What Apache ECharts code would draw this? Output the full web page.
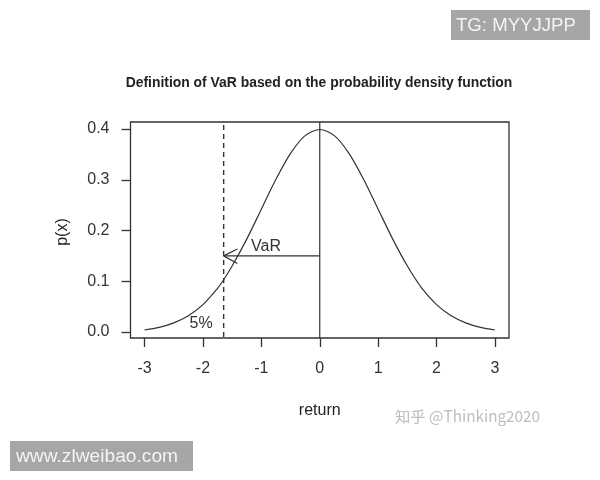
<!DOCTYPE html>
<html lang="en">
  <head>
    <meta charset="UTF-8" />
    <title>VaR</title>
    <style>
      html, body { margin: 0; padding: 0; background: #fff; }
      #main { width: 600px; height: 480px; }
    </style>
  </head>
  <body>
    <div id="main"></div>
    <script src="https://cdn.jsdelivr.net/npm/echarts@6/dist/echarts.min.js"></script>
    <script>
      // density curve
      var curveX = [-3, -2.75, -2.5, -2.25, -2, -1.75, -1.645, -1.5, -1.25, -1, -0.75, -0.5, -0.25, 0,
        0.25, 0.5, 0.75, 1, 1.25, 1.5, 1.75, 2, 2.25, 2.5, 2.75, 3];
      var curveY = [0.004, 0.009, 0.018, 0.032, 0.054, 0.086, 0.103, 0.13, 0.183, 0.242, 0.301, 0.352, 0.387, 0.399,
        0.387, 0.352, 0.301, 0.242, 0.183, 0.13, 0.086, 0.054, 0.032, 0.018, 0.009, 0.004];

      var xTicks = [-3, -2, -1, 0, 1, 2, 3];
      var yTicks = [0, 0.1, 0.2, 0.3, 0.4];

      var varX = -1.645;
      var varY = 0.15;
      var dashedLine = [[varX, 0.408], [varX, -0.0118]];
      var zeroLine = [[0, 0.4138], [0, -0.0118]];
      var varLine = [[0, varY], [varX, varY]];
      var arrowHead = [[-1.41, 0.1635], [varX, varY], [-1.41, 0.135]];
      var notes = [[-0.92, 0.168, 'VaR'], [-2.03, 0.016, '5%']];

      var inkColor = '#333';
      var fontName = '"Liberation Sans", Arial, sans-serif';

      function pairs(xs, ys) {
        return xs.map(function (x, i) { return [x, ys[i]]; });
      }

      function plainLine(data, dash, width) {
        return {
          type: 'line',
          data: data,
          symbol: 'none',
          silent: true,
          animation: false,
          lineStyle: { color: inkColor, width: width || 1.2, type: dash || 'solid' }
        };
      }

      var myChart = echarts.init(document.getElementById('main'), null, { renderer: 'canvas' });

      var option = {
        backgroundColor: '#fff',
        animation: false,
        title: {
          text: 'Definition of VaR based on the probability density function',
          left: 314,
          top: 71,
          textAlign: 'center',
          textStyle: { fontFamily: fontName, fontSize: 13.9, fontWeight: 'bold', color: '#222' }
        },
        grid: {
          left: 130.5,
          right: 91,
          top: 122,
          bottom: 142,
          show: true,
          borderColor: inkColor,
          borderWidth: 1.3,
          backgroundColor: 'transparent'
        },
        xAxis: {
          type: 'value',
          min: -3.24,
          max: 3.24,
          name: 'return',
          nameLocation: 'middle',
          nameGap: 65,
          nameTextStyle: { fontFamily: fontName, fontSize: 16, color: '#222' },
          splitLine: { show: false },
          axisLine: { show: false, onZero: false },
          axisTick: {
            show: true,
            length: 9,
            customValues: xTicks,
            lineStyle: { color: inkColor, width: 1.3 }
          },
          axisLabel: {
            customValues: xTicks,
            margin: 23,
            fontFamily: fontName,
            fontSize: 16,
            color: '#333',
            formatter: function (v) { return String(v); }
          }
        },
        yAxis: {
          type: 'value',
          min: -0.0118,
          max: 0.4138,
          name: 'p(x)',
          nameLocation: 'middle',
          nameGap: 60,
          nameTextStyle: { fontFamily: fontName, fontSize: 16, color: '#222', padding: [0, 4, 0, 0] },
          splitLine: { show: false },
          axisLine: { show: false, onZero: false },
          axisTick: {
            show: true,
            length: 9,
            customValues: yTicks,
            lineStyle: { color: inkColor, width: 1.3 }
          },
          axisLabel: {
            customValues: yTicks,
            margin: 21,
            fontFamily: fontName,
            fontSize: 16,
            color: '#333',
            formatter: function (v) { return v.toFixed(1); }
          }
        },
        series: [
          Object.assign(plainLine(pairs(curveX, curveY)), { smooth: 0.3 }),
          plainLine(dashedLine, [5, 4], 1.4),
          plainLine(zeroLine),
          plainLine(varLine),
          plainLine(arrowHead),
          {
            type: 'scatter',
            data: notes,
            symbolSize: 0,
            silent: true,
            itemStyle: { opacity: 1 },
            label: {
              show: true,
              position: 'inside',
              formatter: function (p) { return p.value[2]; },
              fontFamily: fontName,
              fontSize: 16,
              color: '#333'
            }
          }
        ],
        // watermarks sit on top of the picture, not on the data
        graphic: [
          {
            type: 'rect',
            shape: { x: 451, y: 10, width: 139, height: 30 },
            style: { fill: '#a6a6a6' }
          },
          {
            type: 'text',
            x: 456,
            y: 16,
            style: { text: 'TG: MYYJJPP', fill: '#f4f4f4', fontFamily: fontName, fontSize: 18.6 }
          },
          {
            type: 'rect',
            shape: { x: 10, y: 441, width: 183, height: 30 },
            style: { fill: '#a6a6a6' }
          },
          {
            type: 'text',
            x: 16,
            y: 447,
            style: { text: 'www.zlweibao.com', fill: '#f4f4f4', fontFamily: fontName, fontSize: 19.2 }
          },
          {
            type: 'text',
            x: 395,
            y: 409,
            style: {
              text: '知乎 @Thinking2020',
              fill: '#bdbdbd',
              fontFamily: '"Noto Sans CJK SC", "Noto Sans", sans-serif',
              fontSize: 15.3
            }
          }
        ]
      };

      myChart.setOption(option);
    </script>
  </body>
</html>
